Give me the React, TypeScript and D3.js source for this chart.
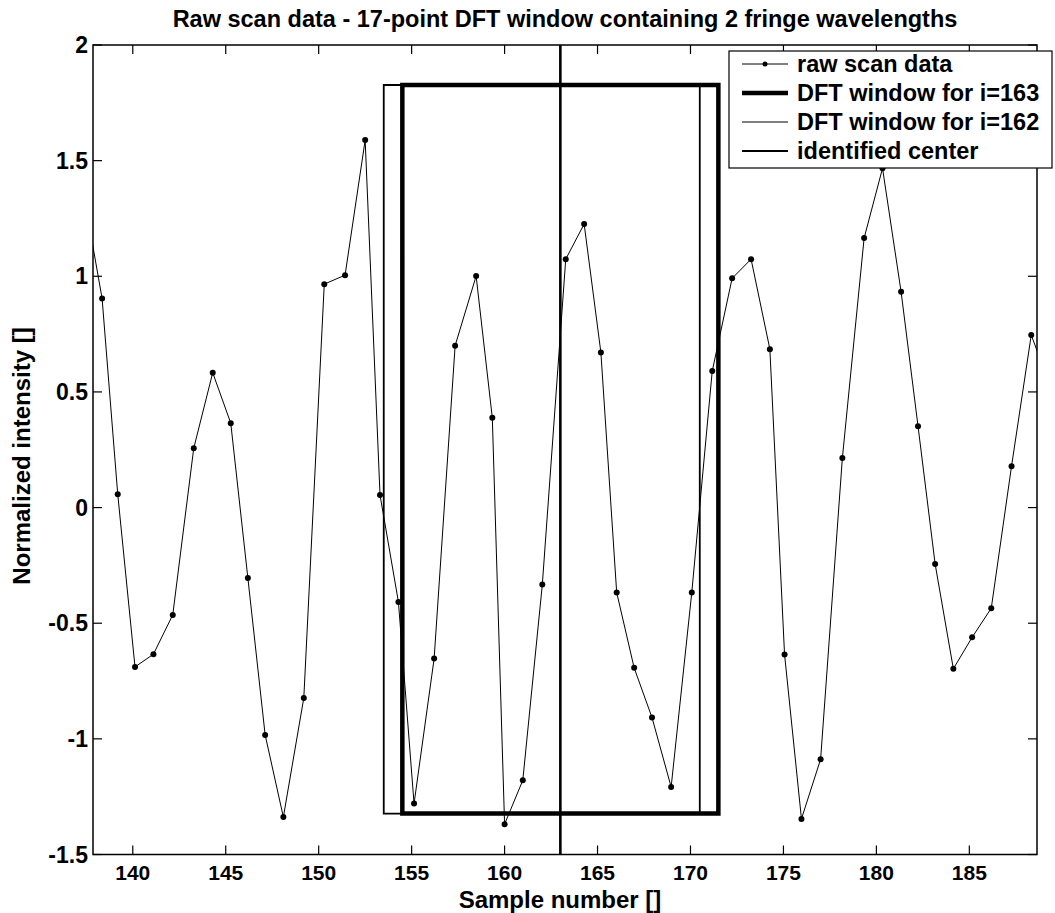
import * as d3 from "d3";

const WIDTH = 1055;
const HEIGHT = 913;
const PLOT = { left: 93, right: 1037, top: 45, bottom: 854.5 };
const FONT = "'Liberation Sans', Arial, Helvetica, sans-serif";

// axis limits and ticks
const X_LIMITS = [137.86, 188.64];
const Y_LIMITS = [-1.5, 2];
const X_TICKS = [140, 145, 150, 155, 160, 165, 170, 175, 180, 185];
const Y_TICKS = [-1.5, -1, -0.5, 0, 0.5, 1, 1.5, 2];

// raw scan data (first and last points sit outside the axes)
const SAMPLE_X = [
  137.35, 138.35, 139.19, 140.12, 141.11, 142.15, 143.28, 144.3, 145.27, 146.19,
  147.12, 148.1, 149.2, 150.3, 151.42, 152.5, 153.3, 154.29, 155.13, 156.21,
  157.34, 158.47, 159.34, 160.0, 160.98, 162.03, 163.29, 164.28, 165.18, 166.03,
  166.97, 167.93, 168.96, 170.07, 171.17, 172.24, 173.26, 174.27, 175.06, 175.97,
  177.0, 178.17, 179.34, 180.33, 181.33, 182.24, 183.16, 184.14, 185.15, 186.18,
  187.27, 188.33, 189.33,
];
const INTENSITY = [
  1.36, 0.904, 0.058, -0.689, -0.634, -0.464, 0.257, 0.583, 0.365, -0.304,
  -0.983, -1.338, -0.823, 0.966, 1.005, 1.589, 0.054, -0.408, -1.28, -0.653,
  0.7, 1.001, 0.388, -1.369, -1.179, -0.333, 1.074, 1.226, 0.671, -0.367,
  -0.693, -0.908, -1.208, -0.367, 0.59, 0.991, 1.074, 0.685, -0.635, -1.346,
  -1.088, 0.214, 1.165, 1.467, 0.933, 0.352, -0.244, -0.697, -0.561, -0.435,
  0.179, 0.746, 0.53,
];

// DFT windows (17 points => +-8.5 samples around i) and identified center
const WINDOW_CENTERS = [163, 162];
const WINDOW_HALF = 8.5;
const WINDOW_LOW = -1.323;
const WINDOW_HIGH = 1.827;
const IDENTIFIED_CENTER = 163;

const LEGEND_LABELS = [
  "raw scan data",
  "DFT window for i=163",
  "DFT window for i=162",
  "identified center",
];

export default function App() {
  const x = d3.scaleLinear().domain(X_LIMITS).range([PLOT.left, PLOT.right]);
  const y = d3.scaleLinear().domain(Y_LIMITS).range([PLOT.bottom, PLOT.top]);

  const points = SAMPLE_X.map((s, i) => [s, INTENSITY[i]] as [number, number]);
  const line = d3
    .line<[number, number]>()
    .x((d) => x(d[0]))
    .y((d) => y(d[1]));

  const rect = (c: number) =>
    `M${x(c - WINDOW_HALF)},${y(WINDOW_LOW)}L${x(c - WINDOW_HALF)},${y(WINDOW_HIGH)}` +
    `L${x(c + WINDOW_HALF)},${y(WINDOW_HIGH)}L${x(c + WINDOW_HALF)},${y(WINDOW_LOW)}Z`;

  const tickLen = 9;
  const legend = { x0: 729, x1: 1052, y0: 51, y1: 168, row: 29, first: 64 };

  return (
    <svg
      width={WIDTH}
      height={HEIGHT}
      style={{ position: "absolute", left: 0, top: 0, background: "#fff" }}
      fontFamily={FONT}
      fontWeight="bold"
    >
      <defs>
        <clipPath id="plot-clip">
          <rect
            x={PLOT.left}
            y={PLOT.top}
            width={PLOT.right - PLOT.left}
            height={PLOT.bottom - PLOT.top}
          />
        </clipPath>
      </defs>
      <rect width={WIDTH} height={HEIGHT} fill="#fff" />

      {/* title */}
      <text x={565} y={27} textAnchor="middle" fontSize={23.5}>
        Raw scan data - 17-point DFT window containing 2 fringe wavelengths
      </text>

      <g clipPath="url(#plot-clip)">
        <path d={line(points) ?? ""} fill="none" stroke="#000" strokeWidth={1} />
        {points.map((d, i) => (
          <circle key={i} cx={x(d[0])} cy={y(d[1])} r={3} fill="#000" />
        ))}
        <path d={rect(WINDOW_CENTERS[1])} fill="none" stroke="#000" strokeWidth={1.8} />
        <path d={rect(WINDOW_CENTERS[0])} fill="none" stroke="#000" strokeWidth={4.5} />
        <line
          x1={x(IDENTIFIED_CENTER)}
          x2={x(IDENTIFIED_CENTER)}
          y1={PLOT.top}
          y2={PLOT.bottom}
          stroke="#000"
          strokeWidth={2.6}
        />
      </g>

      {/* axes box and ticks */}
      <rect
        x={PLOT.left}
        y={PLOT.top}
        width={PLOT.right - PLOT.left}
        height={PLOT.bottom - PLOT.top}
        fill="none"
        stroke="#000"
        strokeWidth={1.5}
      />
      {X_TICKS.map((t) => (
        <g key={`x${t}`}>
          <line x1={x(t)} x2={x(t)} y1={PLOT.bottom} y2={PLOT.bottom - tickLen} stroke="#000" strokeWidth={1.2} />
          <line x1={x(t)} x2={x(t)} y1={PLOT.top} y2={PLOT.top + tickLen} stroke="#000" strokeWidth={1.2} />
          <text x={x(t)} y={880} textAnchor="middle" fontSize={21}>
            {t}
          </text>
        </g>
      ))}
      {Y_TICKS.map((t) => (
        <g key={`y${t}`}>
          <line x1={PLOT.left} x2={PLOT.left + tickLen} y1={y(t)} y2={y(t)} stroke="#000" strokeWidth={1.2} />
          <line x1={PLOT.right} x2={PLOT.right - tickLen} y1={y(t)} y2={y(t)} stroke="#000" strokeWidth={1.2} />
          <text x={88} y={y(t) + 8} textAnchor="end" fontSize={23}>
            {String(t)}
          </text>
        </g>
      ))}

      <text x={560} y={908} textAnchor="middle" fontSize={24}>
        Sample number []
      </text>
      <text
        transform={`translate(30,456) rotate(-90)`}
        textAnchor="middle"
        fontSize={24}
      >
        Normalized intensity []
      </text>

      {/* legend */}
      <g>
        <rect
          x={legend.x0}
          y={legend.y0}
          width={legend.x1 - legend.x0}
          height={legend.y1 - legend.y0}
          fill="#fff"
          stroke="#000"
          strokeWidth={1.2}
        />
        {LEGEND_LABELS.map((label, i) => {
          const ly = legend.first + i * legend.row;
          const sw = i === 1 ? 4.5 : i === 3 ? 1.8 : 1;
          return (
            <g key={label}>
              <line x1={742} x2={788} y1={ly} y2={ly} stroke="#000" strokeWidth={sw} />
              {i === 0 && <circle cx={765} cy={ly} r={2.5} fill="#000" />}
              <text x={797} y={ly + 8} fontSize={23.5}>
                {label}
              </text>
            </g>
          );
        })}
      </g>
    </svg>
  );
}
